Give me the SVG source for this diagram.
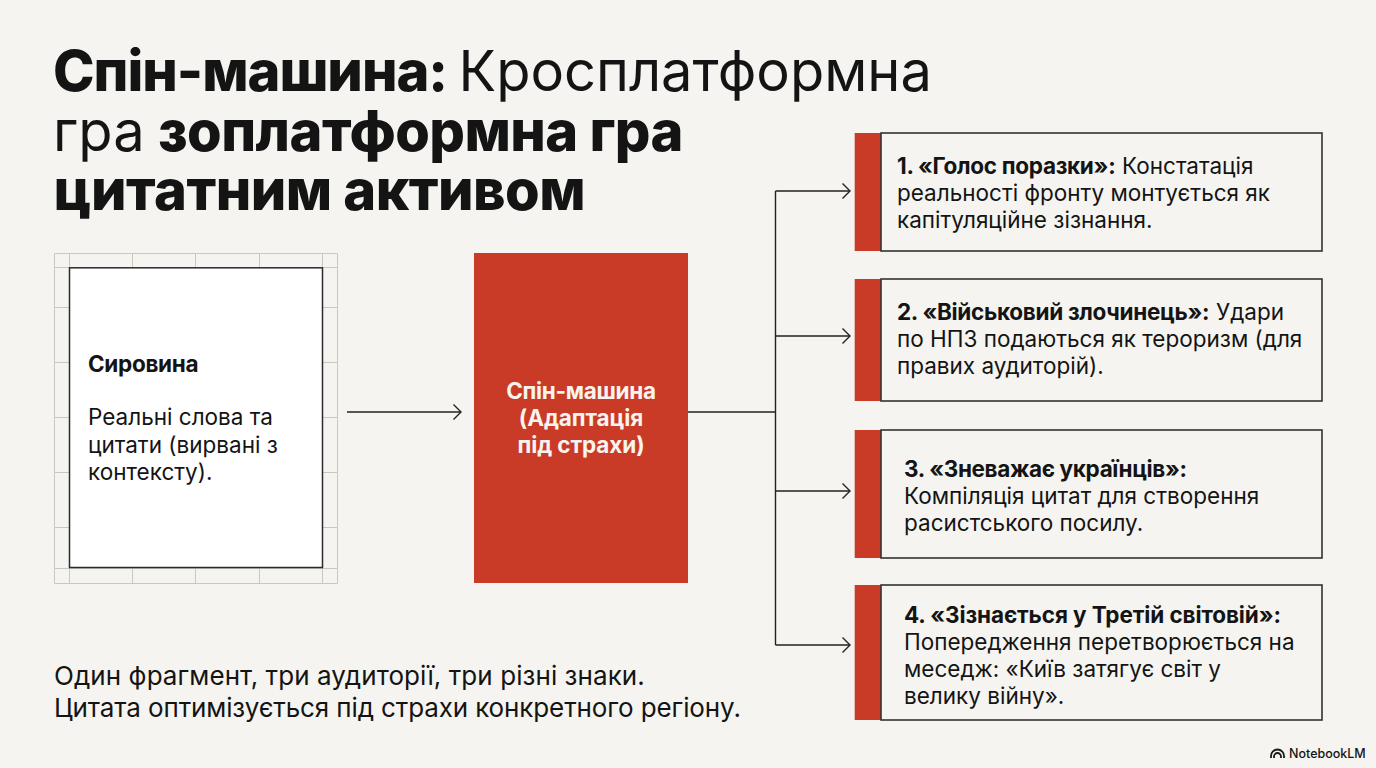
<svg xmlns="http://www.w3.org/2000/svg" width="1376" height="768" viewBox="0 0 1376 768">
<defs>
<marker id="arrow" markerUnits="userSpaceOnUse" markerWidth="12" markerHeight="16" refX="10.5" refY="8" orient="auto"><path d="M3 0.5 L10.5 8 L3 15.5" fill="none" stroke="#222" stroke-width="1.4"/></marker>
</defs>
<style>
text{font-family:Inter,"Noto Sans",sans-serif;fill:#141414}
.t{font-size:56px}
.tb{font-weight:800;letter-spacing:-.55px}
.b{font-weight:700;letter-spacing:-.3px}
.s{font-size:22.5px}
.c{font-size:22.5px}
.f{font-size:26px}
.box{fill:#f5f4f0;stroke:#333;stroke-width:1.6}
.red{fill:#c93b27}
.g{stroke:#c8c8c1;stroke-width:1;fill:none}
.con{stroke:#222;stroke-width:1.4;fill:none}
</style>
<rect width="1376" height="768" fill="#f5f4f0"/>
<g id="title"><text class="t" y="91"><tspan class="tb" x="53" style="letter-spacing:-1.05px">Спін-машина:</tspan><tspan x="458.500">Кросплатформна</tspan></text>
<text class="t" y="151"><tspan x="53">гра</tspan><tspan x="158" class="tb">зоплатформна гра</tspan></text>
<text class="t tb" x="53.500" y="210">цитатним активом</text></g>
<g id="source">
<path class="g" d="M54.500 253.500H337.500V583.500H54.500ZM54 267.500H338M54 307.500H338M54 362.500H338M54 417.500H338M54 472.500H338M54 527.500H338M54 568.500H338M69.500 253V583M132.500 253V583M195.500 253V583M259.500 253V583M322.500 253V583"/>
<rect x="69.500" y="267.800" width="253" height="299.700" fill="#fff" stroke="#2b2b2b" stroke-width="1.5"/>
<text class="s b" x="88" y="372">Сировина</text>
<text class="s" x="88" y="425">Реальні слова та</text>
<text class="s" x="88" y="453">цитати (вирвані з</text>
<text class="s" x="88" y="480">контексту).</text>
</g>
<g id="machine"><rect class="red" x="474" y="253" width="214" height="330"/>
<g text-anchor="middle" class="b"><text class="s" x="581" y="399" style="fill:#f7f3ee">Спін-машина</text><text class="s" x="581" y="426" style="fill:#f7f3ee;letter-spacing:-.1px">(Адаптація</text><text class="s" x="581" y="453" style="fill:#f7f3ee;letter-spacing:-.1px">під страхи)</text></g></g>
<g id="connectors">
<path class="con" d="M347 412H461" marker-end="url(#arrow)"/>
<path class="con" d="M688 412H775.500"/>
<path class="con" d="M775.500 191V645"/>
<path class="con" d="M775.500 191H850" marker-end="url(#arrow)"/>
<path class="con" d="M775.500 336H850" marker-end="url(#arrow)"/>
<path class="con" d="M775.500 491H850" marker-end="url(#arrow)"/>
<path class="con" d="M775.500 645H850" marker-end="url(#arrow)"/>
</g>
<g id="card1"><rect class="red" x="854.700" y="133" width="26.300" height="118"/><rect class="box" x="881" y="133" width="441" height="118"/>
<text class="c" y="174"><tspan class="b" x="897">1. «Голос поразки»:</tspan><tspan x="1122">Констатація</tspan></text><text class="c" x="897" y="201">реальності фронту монтується як</text><text class="c" x="897" y="228">капітуляційне зізнання.</text></g>
<g id="card2"><rect class="red" x="854.700" y="279" width="26.300" height="122"/><rect class="box" x="881" y="279" width="441" height="122"/>
<text class="c" y="320"><tspan class="b" x="897">2. «Військовий злочинець»:</tspan><tspan x="1216">Удари</tspan></text><text class="c" x="897" y="347">по НПЗ подаються як тероризм (для</text><text class="c" x="897" y="374">правих аудиторій).</text></g>
<g id="card3"><rect class="red" x="854.700" y="430" width="26.300" height="128"/><rect class="box" x="881" y="430" width="441" height="128"/>
<text class="c b" x="904" y="477" style="letter-spacing:-.34px">3. «Зневажає українців»:</text><text class="c" x="904" y="504">Компіляція цитат для створення</text><text class="c" x="904" y="531">расистського посилу.</text></g>
<g id="card4"><rect class="red" x="854.700" y="585" width="26.300" height="135"/><rect class="box" x="881" y="585" width="441" height="135"/>
<text class="c b" x="904" y="623" style="letter-spacing:-.1px">4. «Зізнається у Третій світовій»:</text><text class="c" x="904" y="650">Попередження перетворюється на</text><text class="c" x="904" y="677">меседж: «Київ затягує світ у</text><text class="c" x="904" y="704">велику війну».</text></g>
<g id="footer"><text class="f" x="54" y="685" style="letter-spacing:.07px">Один фрагмент, три аудиторії, три різні знаки.</text><text class="f" x="54" y="717" style="letter-spacing:-.12px">Цитата оптимізується під страхи конкретного регіону.</text></g>
<g id="brand"><path d="M1271 758v-2a6.500 6.500 0 0 1 13 0v2M1274 758v-1.500a3.500 3.500 0 0 1 7 0v1.500" fill="none" stroke="#1a1a1a" stroke-width="1.800"/><text x="1289" y="758" font-size="12.500" font-weight="500">NotebookLM</text></g>
</svg>
